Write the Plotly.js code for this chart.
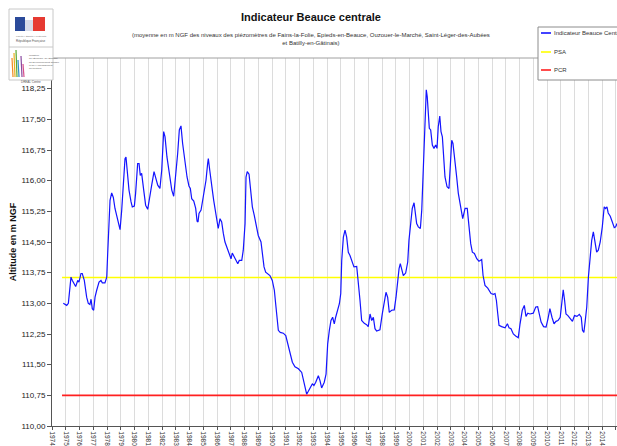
<!DOCTYPE html>
<html>
<head>
<meta charset="utf-8">
<script src="https://cdn.plot.ly/plotly-3.0.1.min.js"></script>
<style>html,body{margin:0;padding:0;background:#fff;}#chart{width:617px;height:446px;}</style>
</head>
<body>
<div id="chart"></div>
<script>
// ---- data ----
const years = [1974.82,1975.07,1975.19,1975.31,1975.38,1975.48,1975.62,1975.72,1975.87,1975.96,
1976.11,1976.20,1976.35,1976.52,1976.64,1976.76,1976.84,1976.93,1977.03,1977.13,1977.25,1977.42,1977.56,1977.66,1977.85,1977.98,
1978.05,1978.15,1978.22,1978.34,1978.46,1978.58,1978.78,1978.95,1979.07,1979.19,1979.31,1979.38,1979.50,1979.60,1979.75,1979.84,1979.99,
1980.08,1980.23,1980.33,1980.42,1980.52,1980.67,1980.81,1980.96,1981.13,1981.25,1981.42,1981.54,1981.69,1981.85,1981.98,
1982.12,1982.22,1982.36,1982.58,1982.71,1982.85,1983.00,1983.14,1983.26,1983.38,1983.50,1983.67,1983.82,1983.96,
1984.06,1984.16,1984.31,1984.45,1984.55,1984.62,1984.69,1984.84,1984.93,1985.08,1985.20,1985.32,1985.37,1985.47,1985.56,1985.66,1985.76,1985.90,
1986.00,1986.09,1986.22,1986.34,1986.46,1986.58,1986.75,1986.90,1987.02,1987.11,1987.26,1987.40,1987.51,1987.62,1987.80,1987.91,
1988.04,1988.11,1988.20,1988.33,1988.42,1988.57,1988.71,1988.84,1989.00,1989.20,1989.30,1989.42,1989.54,1989.69,1989.85,
1990.02,1990.17,1990.29,1990.46,1990.60,1990.82,1991.00,1991.14,1991.31,1991.48,1991.67,1991.92,1992.16,1992.28,1992.40,1992.52,1992.64,1992.81,1992.93,
1993.05,1993.18,1993.37,1993.49,1993.61,1993.80,1993.93,1994.05,1994.17,1994.29,1994.41,1994.53,1994.63,1994.78,1994.90,
1995.00,1995.07,1995.19,1995.31,1995.43,1995.55,1995.67,1995.84,1995.96,1996.16,1996.28,1996.40,1996.52,1996.71,1996.88,
1997.00,1997.13,1997.25,1997.37,1997.49,1997.61,1997.85,1998.02,1998.16,1998.29,1998.41,1998.53,1998.70,1998.89,
1999.02,1999.14,1999.24,1999.33,1999.43,1999.55,1999.72,1999.87,1999.96,2000.11,2000.20,2000.33,2000.42,2000.52,2000.64,2000.79,2000.89,2000.98,
2001.05,2001.13,2001.22,2001.29,2001.37,2001.44,2001.54,2001.66,2001.78,2001.90,2002.00,2002.09,2002.20,2002.29,2002.39,2002.49,2002.58,2002.73,2002.87,2002.97,
2003.07,2003.16,2003.31,2003.43,2003.55,2003.70,2003.87,2004.04,2004.20,2004.33,2004.45,2004.57,2004.72,2004.89,
2005.05,2005.25,2005.35,2005.49,2005.69,2005.93,2006.10,2006.22,2006.32,2006.42,2006.51,2006.70,2006.95,
2007.12,2007.24,2007.38,2007.55,2007.72,2007.91,2008.04,2008.20,2008.35,2008.47,2008.60,2008.76,
2009.00,2009.18,2009.32,2009.45,2009.57,2009.75,2009.93,2010.07,2010.21,2010.36,2010.51,2010.65,2010.80,2010.96,
2011.09,2011.18,2011.28,2011.38,2011.52,2011.69,2011.85,2012.00,2012.18,2012.35,2012.49,2012.58,2012.68,2012.77,2012.89,
2013.01,2013.13,2013.25,2013.37,2013.49,2013.61,2013.73,2013.87,2014.02,2014.16,2014.26,2014.36,2014.45,2014.60,2014.75,2014.89,2014.99,2015.09];

const niveau = [113.00,112.95,113.00,113.32,113.64,113.56,113.48,113.41,113.56,113.52,
113.73,113.73,113.56,113.15,113.00,112.97,113.10,112.87,112.83,113.15,113.32,113.52,113.56,113.50,113.50,113.64,
114.22,114.87,115.52,115.70,115.59,115.32,115.07,114.80,115.28,115.97,116.54,116.58,116.09,115.77,115.48,115.36,115.38,
115.69,116.42,116.42,116.13,116.18,115.77,115.40,115.30,115.60,115.89,116.22,116.05,115.89,115.81,116.26,
117.20,117.07,116.58,116.01,115.77,115.62,116.09,116.67,117.24,117.34,116.91,116.42,116.09,115.87,
115.81,115.56,115.50,115.32,115.01,114.99,115.20,115.28,115.44,115.77,116.01,116.42,116.54,116.26,115.97,115.77,115.52,115.20,
115.07,114.83,115.07,114.99,114.71,114.50,114.34,114.22,114.09,114.23,114.13,114.01,113.97,114.05,114.05,114.30,
114.95,116.09,116.22,116.16,115.81,115.36,115.15,114.91,114.66,114.50,114.22,113.89,113.76,113.73,113.68,
113.56,113.32,112.91,112.34,112.29,112.27,112.21,112.01,111.80,111.56,111.45,111.40,111.31,111.11,110.91,110.78,110.85,110.95,111.03,
110.99,111.07,111.23,111.11,110.93,111.07,111.27,112.01,112.34,112.58,112.66,112.50,112.66,112.83,112.99,
113.24,114.05,114.62,114.79,114.62,114.25,114.17,113.99,113.89,113.90,113.56,113.07,112.58,112.51,112.48,
112.43,112.74,112.58,112.66,112.38,112.32,112.35,112.74,113.03,113.27,113.15,112.78,112.83,112.84,
113.15,113.56,113.85,113.97,113.81,113.68,113.74,114.01,114.54,115.03,115.32,115.46,115.24,114.95,114.87,114.83,115.28,116.01,
116.58,117.32,118.22,118.05,117.65,117.28,117.24,116.87,116.79,116.87,116.79,117.32,117.58,117.20,117.07,116.42,116.09,115.85,115.81,116.38,
116.99,116.91,116.50,116.09,115.69,115.40,115.07,115.32,115.32,114.87,114.46,114.25,114.22,114.09,
114.03,114.07,113.68,113.44,113.37,113.24,113.22,113.24,113.07,112.74,112.46,112.43,112.40,
112.50,112.40,112.38,112.25,112.20,112.16,112.50,112.83,112.95,112.68,112.76,112.74,
112.76,112.91,112.92,112.74,112.54,112.43,112.42,112.62,112.87,112.66,112.50,112.56,112.58,112.66,
113.15,113.33,113.07,112.74,112.70,112.64,112.56,112.70,112.68,112.73,112.66,112.34,112.29,112.54,112.91,
113.64,114.17,114.54,114.75,114.46,114.25,114.30,114.50,114.87,115.36,115.32,115.36,115.21,115.13,114.99,114.85,114.87,114.95];

const seuilYears = [1974.73, 2016];
const psa = [113.63, 113.63];
const pcr = [110.75, 110.75];

const tickYears = [];
for (let y = 1974; y <= 2015; y++) tickYears.push(y);
const tickYearLabels = tickYears.map(String);
const yTicks = [110, 110.75, 111.5, 112.25, 113, 113.75, 114.5, 115.25, 116, 116.75, 117.5, 118.25];

const seriesNames = ['Indicateur Beauce Centrale', 'PSA', 'PCR'];
const seriesColors = ['#1414ff', '#ffff00', '#ff2020'];

// ---- layout helpers (pixel -> paper) ----
const L = 52, T = 58, W = 565, H = 368;
const px = x => (x - L) / W;
const py = y => (T + H - y) / H;

const sans = 'Liberation Sans, Arial, sans-serif';

const traces = [
  {x: seuilYears, y: psa, type: 'scatter', mode: 'lines', name: seriesNames[1],
   line: {color: seriesColors[1], width: 1.6}, showlegend: false, hoverinfo: 'skip'},
  {x: seuilYears, y: pcr, type: 'scatter', mode: 'lines', name: seriesNames[2],
   line: {color: seriesColors[2], width: 1.6}, showlegend: false, hoverinfo: 'skip'},
  {x: years, y: niveau, type: 'scatter', mode: 'lines', name: seriesNames[0],
   line: {color: seriesColors[0], width: 1.2}, showlegend: false, hoverinfo: 'skip'}
];

const shapes = [];
const annotations = [];

// plot area top border
shapes.push({type: 'line', xref: 'paper', yref: 'paper', x0: 0, x1: 1.02, y0: 1, y1: 1,
  line: {color: '#a0a0a0', width: 1}, layer: 'above'});

// custom legend box
shapes.push({type: 'rect', xref: 'paper', yref: 'paper', x0: px(538), x1: px(630), y0: py(27), y1: py(80),
  fillcolor: '#ffffff', line: {color: '#8c8c8c', width: 1}, layer: 'above'});
const legY = [33, 52, 70];
for (let i = 0; i < 3; i++) {
  shapes.push({type: 'line', xref: 'paper', yref: 'paper', x0: px(541), x1: px(551), y0: py(legY[i]), y1: py(legY[i]),
    line: {color: seriesColors[i], width: 1.6}, layer: 'above'});
  annotations.push({xref: 'paper', yref: 'paper', x: px(552), y: py(legY[i]), xanchor: 'left', yanchor: 'middle',
    text: seriesNames[i], showarrow: false, font: {family: sans, size: 6, color: '#333'}});
}

// logo (decorative)
shapes.push({type: 'rect', xref: 'paper', yref: 'paper', x0: px(9), x1: px(53), y0: py(9), y1: py(80),
  fillcolor: '#ffffff', line: {color: '#c8c8c8', width: 1}, layer: 'above'});
shapes.push({type: 'line', xref: 'paper', yref: 'paper', x0: px(9), x1: px(53), y0: py(47), y1: py(47),
  line: {color: '#c8c8c8', width: 1}, layer: 'above'});
shapes.push({type: 'rect', xref: 'paper', yref: 'paper', x0: px(15), x1: px(25), y0: py(17), y1: py(31),
  fillcolor: '#2b4a9a', line: {width: 0}, layer: 'above'});
shapes.push({type: 'rect', xref: 'paper', yref: 'paper', x0: px(33), x1: px(45), y0: py(17), y1: py(31),
  fillcolor: '#e63a32', line: {width: 0}, layer: 'above'});
shapes.push({type: 'rect', xref: 'paper', yref: 'paper', x0: px(25), x1: px(33), y0: py(20), y1: py(31),
  fillcolor: '#d7dcea', line: {width: 0}, layer: 'above'});
const barCols = ['#f08a24', '#e8b020', '#5aa832', '#2e8ec8', '#8a4aa0', '#d8508a'];
const barX = [12, 14, 16, 18, 21, 23];
const barTop = [58, 53, 50, 60, 56, 64];
for (let i = 0; i < barCols.length; i++) {
  shapes.push({type: 'line', xref: 'paper', yref: 'paper', x0: px(barX[i]), x1: px(barX[i] + 1), y0: py(barTop[i]), y1: py(77),
    line: {color: barCols[i], width: 1.2}, layer: 'above'});
}
annotations.push({xref: 'paper', yref: 'paper', x: px(31), y: py(36), text: 'Liberté • Égalité • Fraternité',
  showarrow: false, font: {family: sans, size: 2.5, color: '#777'}, xanchor: 'center', yanchor: 'middle'});
annotations.push({xref: 'paper', yref: 'paper', x: px(31), y: py(41), text: 'République Française',
  showarrow: false, font: {family: sans, size: 3, color: '#555'}, xanchor: 'center', yanchor: 'middle'});
annotations.push({xref: 'paper', yref: 'paper', x: px(27), y: py(62),
  text: 'Ministère<br>de l\'Écologie, de l\'Énergie,<br>du Développement durable<br>et de l\'Aménagement<br>du territoire',
  showarrow: false, align: 'left', font: {family: sans, size: 2.5, color: '#555'}, xanchor: 'left', yanchor: 'middle'});
annotations.push({xref: 'paper', yref: 'paper', x: px(31), y: py(82), text: 'DREAL Centre',
  showarrow: false, font: {family: sans, size: 3, color: '#555'}, xanchor: 'center', yanchor: 'middle'});

// subtitle
annotations.push({xref: 'paper', yref: 'paper', x: px(311), y: py(39.5), xanchor: 'center', yanchor: 'middle',
  text: '(moyenne en m NGF des niveaux des piézomètres de Fains-la-Folie, Epieds-en-Beauce, Ouzouer-le-Marché, Saint-Léger-des-Aubées<br>et Batilly-en-Gâtinais)',
  showarrow: false, font: {family: sans, size: 6, color: '#333'}});

const layout = {
  width: 617, height: 446,
  margin: {l: L, r: 0, t: T, b: 446 - T - H, pad: 0},
  paper_bgcolor: '#ffffff', plot_bgcolor: '#ffffff',
  separators: ', ',
  showlegend: false,
  title: {text: 'Indicateur Beauce centrale', xref: 'container', yref: 'container',
    x: 311 / 617, y: 1 - 17 / 446, xanchor: 'center', yanchor: 'middle',
    font: {family: sans, size: 11, weight: 'bold', color: '#111'}},
  xaxis: {range: [1974, 2015.09], tickmode: 'array', tickvals: tickYears, ticktext: tickYearLabels,
    tickangle: 90, tickfont: {family: sans, size: 6.5, color: '#333'},
    ticks: 'outside', ticklen: 3, tickcolor: '#555', tickwidth: 1,
    showgrid: true, gridcolor: '#dcdcdc', gridwidth: 1, zeroline: false,
    showline: true, linecolor: '#555', linewidth: 1},
  yaxis: {range: [110, 119], tickmode: 'array', tickvals: yTicks, tickformat: '.2f',
    tickfont: {family: sans, size: 8, color: '#222'},
    ticks: 'outside', ticklen: 4, tickcolor: '#555', tickwidth: 1,
    showgrid: false, zeroline: false, showline: true, linecolor: '#555', linewidth: 1,
    title: {text: 'Altitude en m NGF', standoff: 3, font: {family: sans, size: 9, weight: 'bold', color: '#111'}}},
  shapes: shapes,
  annotations: annotations
};

Plotly.newPlot('chart', traces, layout, {staticPlot: true, displayModeBar: false});
</script>
</body>
</html>
